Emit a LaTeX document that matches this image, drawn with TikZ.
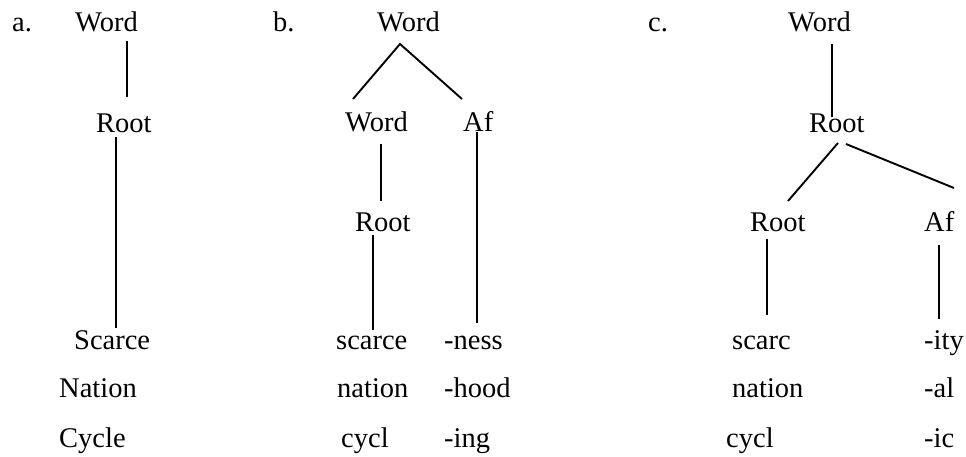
\documentclass[tikz,border=0pt]{standalone}
\usepackage{fontspec}
\setmainfont{Liberation Serif}
\begin{document}
\begin{tikzpicture}[x=1pt,y=-1pt,
  lbl/.style={inner sep=0pt,anchor=base west,font=\fontsize{28.5}{34}\selectfont},
  branch/.style={line width=1.9pt,black}]
\useasboundingbox (0,0) rectangle (966,457);
% ---- a ----
\node[lbl] (la) at (12,32) {a.};
\node[lbl] (aw) at (75,32) {Word};
\node[lbl] (ar) at (96,132.5) {Root};
\node[lbl] (as) at (74,349.5) {Scarce};
\node[lbl] (an) at (59,397.5) {Nation};
\node[lbl] (ac) at (59,447.5) {Cycle};
\coordinate (a1t) at (127,41); \coordinate (a1b) at (127,97);
\coordinate (a2t) at (116,137); \coordinate (a2b) at (116,328);
\draw[branch] (a1t) -- (a1b);
\draw[branch] (a2t) -- (a2b);
% ---- b ----
\node[lbl] (lb) at (273,32) {b.};
\node[lbl] (bw) at (377,32) {Word};
\node[lbl] (bw2) at (345,132) {Word};
\node[lbl] (baf) at (463,132) {Af};
\node[lbl] (br) at (355,231) {Root};
\node[lbl] (bs) at (336,349.5) {scarce};
\node[lbl] (bn) at (337,397.5) {nation};
\node[lbl] (bc) at (341,447.5) {cycl};
\node[lbl] (bs2) at (444,349.5) {-ness};
\node[lbl] (bn2) at (444,397.5) {-hood};
\node[lbl] (bc2) at (444,447.5) {-ing};
\coordinate (b0) at (400,44);
\coordinate (b1) at (353,99); \coordinate (b2) at (462,99);
\coordinate (b3t) at (381,144); \coordinate (b3b) at (381,201);
\coordinate (b4t) at (477,132); \coordinate (b4b) at (477,323);
\coordinate (b5t) at (373,235); \coordinate (b5b) at (373,330);
\draw[branch] (b1) -- (b0) -- (b2);
\draw[branch] (b3t) -- (b3b);
\draw[branch] (b4t) -- (b4b);
\draw[branch] (b5t) -- (b5b);
% ---- c ----
\node[lbl] (lc) at (648,32) {c.};
\node[lbl] (cw) at (788,32) {Word};
\node[lbl] (cr) at (809,132.5) {Root};
\node[lbl] (cr2) at (750,231) {Root};
\node[lbl] (caf) at (924,231) {Af};
\node[lbl] (cs) at (732,349.5) {scarc};
\node[lbl] (cn) at (732,397.5) {nation};
\node[lbl] (cc) at (726,447.5) {cycl};
\node[lbl] (cs2) at (924,349.5) {-ity};
\node[lbl] (cn2) at (924,397.5) {-al};
\node[lbl] (cc2) at (924,447.5) {-ic};
\coordinate (c1t) at (832,44); \coordinate (c1b) at (832,117);
\coordinate (c2t) at (838,143); \coordinate (c2b) at (788,201);
\coordinate (c3t) at (846,144); \coordinate (c3b) at (954,188);
\coordinate (c4t) at (767,239); \coordinate (c4b) at (767,315);
\coordinate (c5t) at (939,245); \coordinate (c5b) at (939,319);
\draw[branch] (c1t) -- (c1b);
\draw[branch] (c2t) -- (c2b);
\draw[branch] (c3t) -- (c3b);
\draw[branch] (c4t) -- (c4b);
\draw[branch] (c5t) -- (c5b);
\end{tikzpicture}
\end{document}
